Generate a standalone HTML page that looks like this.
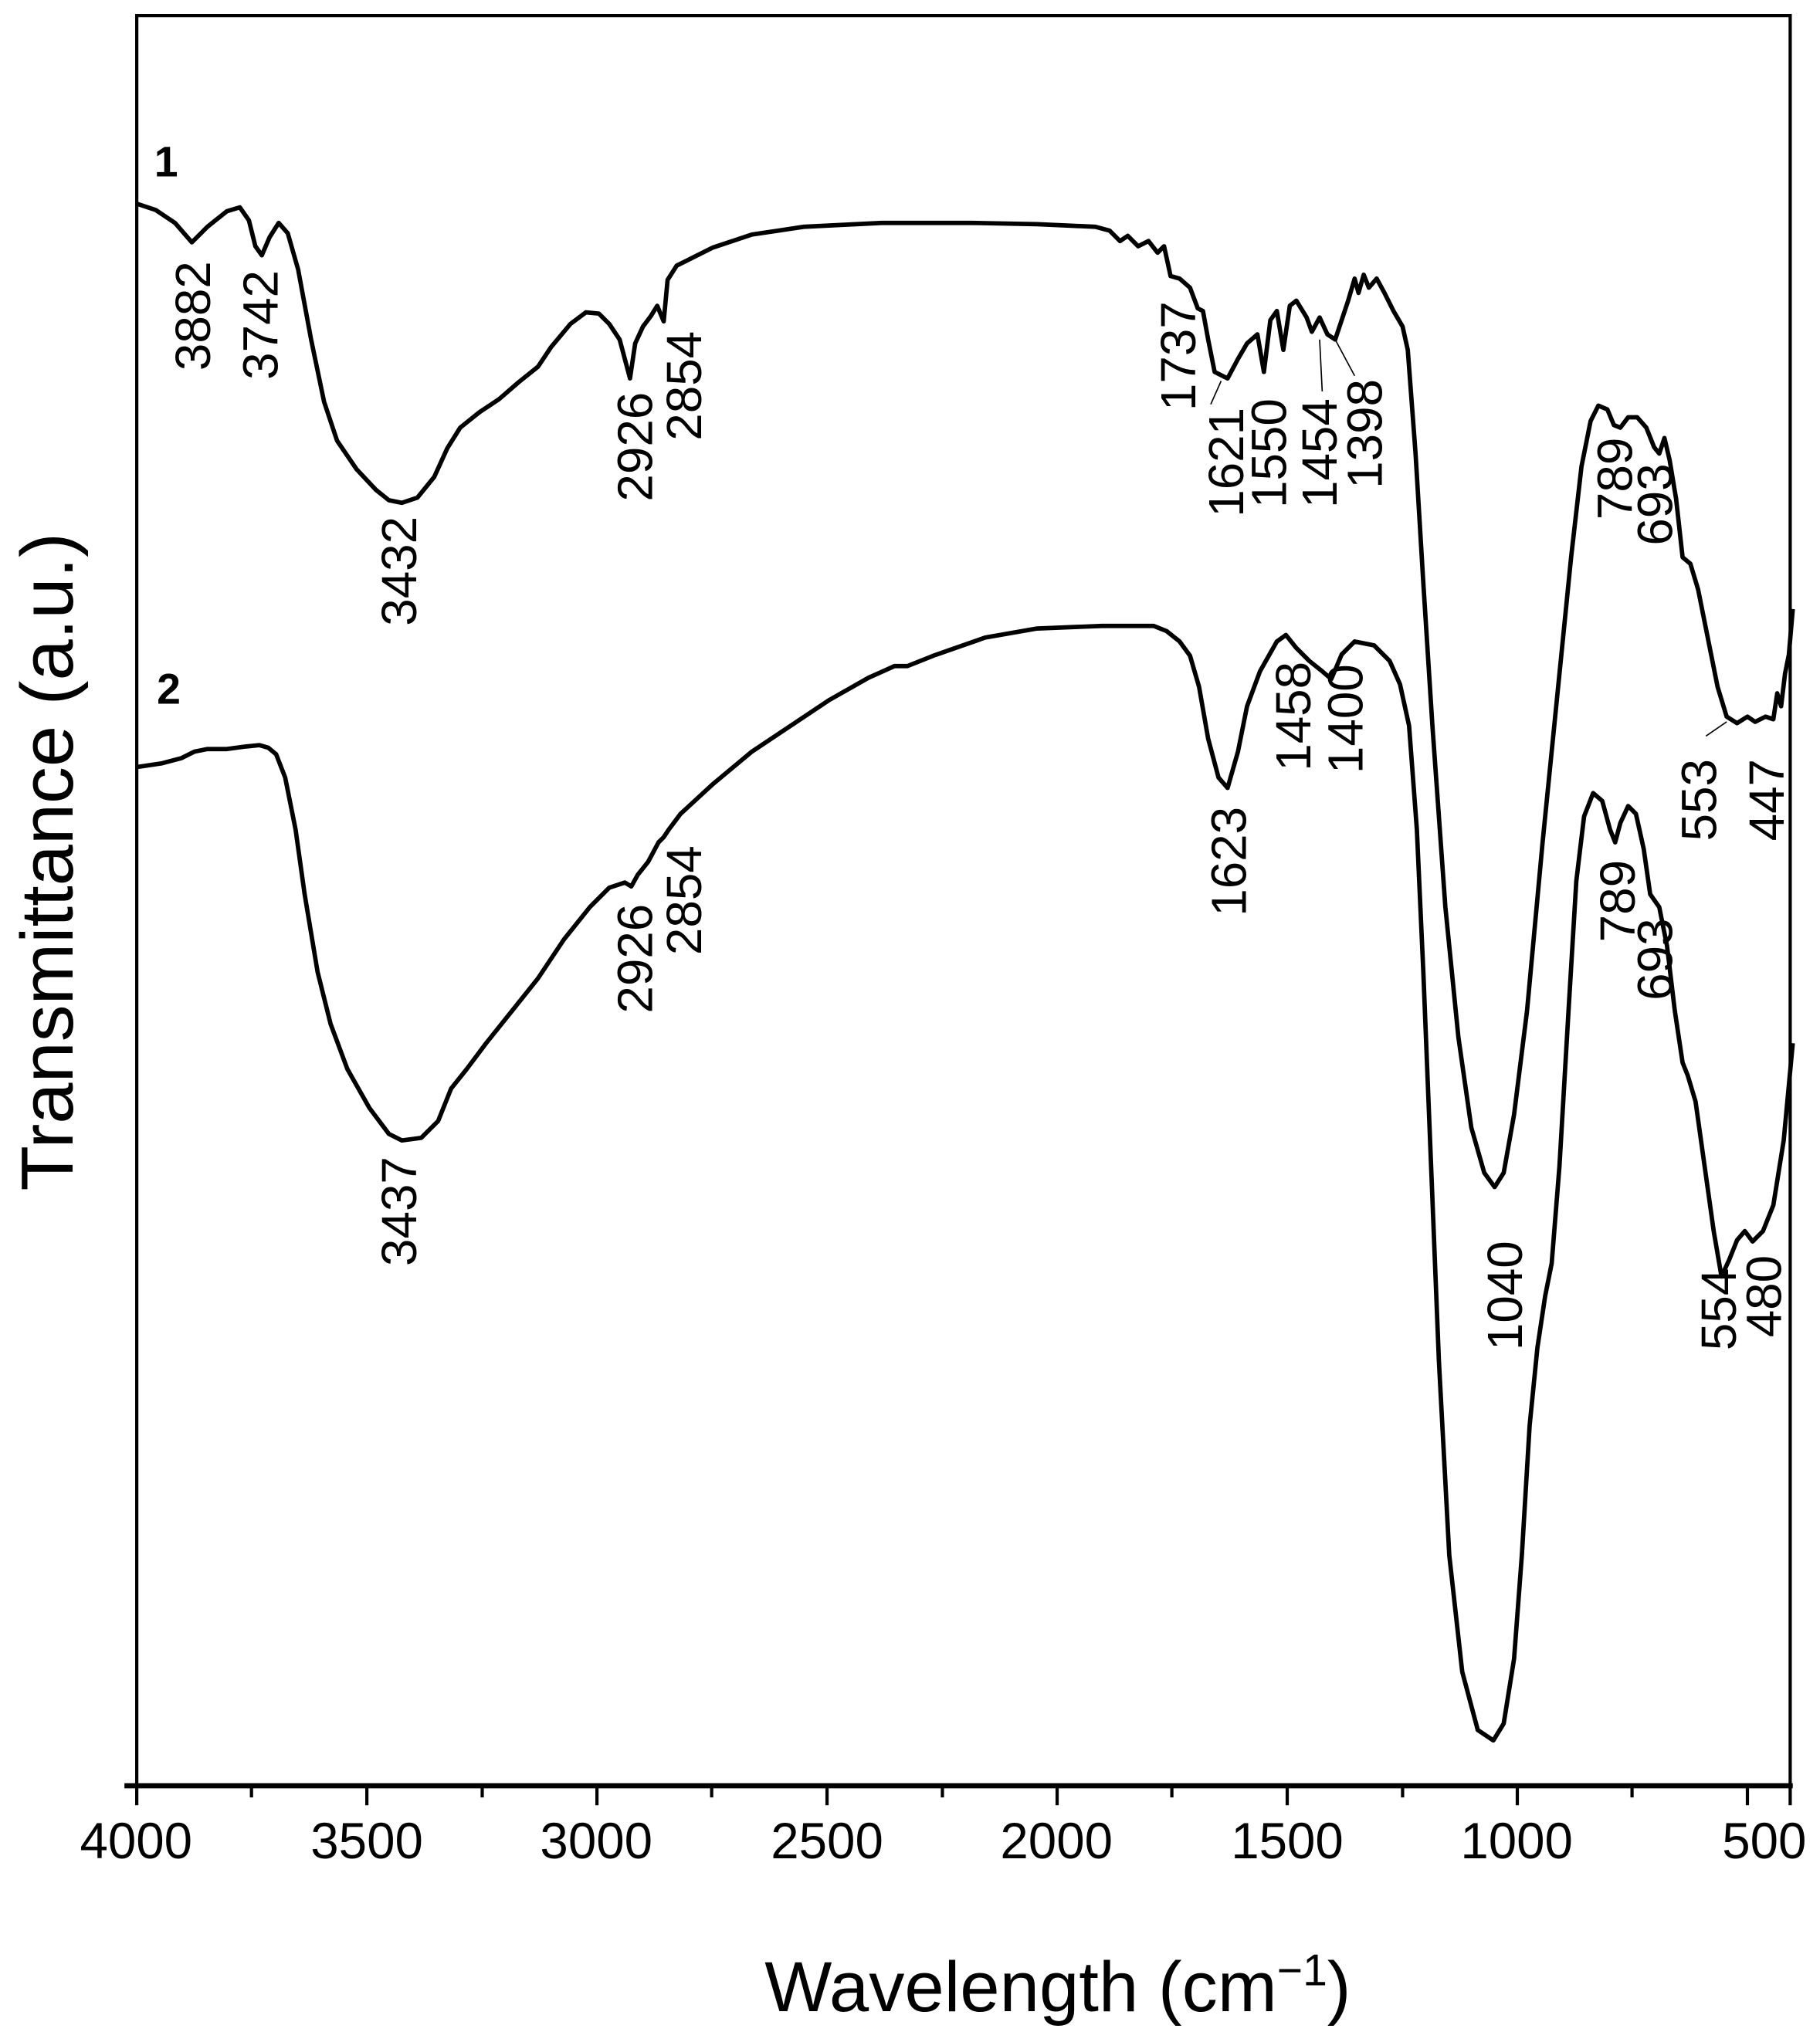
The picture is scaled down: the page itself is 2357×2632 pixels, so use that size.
<!DOCTYPE html>
<html><head><meta charset="utf-8"><style>
html,body{margin:0;padding:0;background:#fff;}
svg{display:block;}
text{font-family:"Liberation Sans",Arial,sans-serif;fill:#000;}
</style></head><body>
<svg width="2357" height="2632" viewBox="0 0 1404 1568" preserveAspectRatio="none" xmlns="http://www.w3.org/2000/svg">
<rect x="0" y="0" width="1404" height="1568" fill="#fff"/>
<path d="M105.5 1378 L105.5 12 L1381 12 L1381 1378" fill="none" stroke="#000" stroke-width="2.5"/>
<line x1="96" y1="1378" x2="1383" y2="1378" stroke="#000" stroke-width="4"/>
<g stroke="#000" stroke-width="2.5">
<line x1="105.5" y1="1378" x2="105.5" y2="1393"/><line x1="283" y1="1378" x2="283" y2="1393"/><line x1="460.5" y1="1378" x2="460.5" y2="1393"/><line x1="638" y1="1378" x2="638" y2="1393"/><line x1="815.5" y1="1378" x2="815.5" y2="1393"/><line x1="993" y1="1378" x2="993" y2="1393"/><line x1="1170.5" y1="1378" x2="1170.5" y2="1393"/><line x1="1348" y1="1378" x2="1348" y2="1393"/><line x1="1381" y1="1378" x2="1381" y2="1393"/>
<line x1="194" y1="1378" x2="194" y2="1387"/><line x1="372" y1="1378" x2="372" y2="1387"/><line x1="549" y1="1378" x2="549" y2="1387"/><line x1="727" y1="1378" x2="727" y2="1387"/><line x1="904" y1="1378" x2="904" y2="1387"/><line x1="1082" y1="1378" x2="1082" y2="1387"/><line x1="1259" y1="1378" x2="1259" y2="1387"/>
</g>
<g font-size="39" text-anchor="middle">
<text x="105" y="1434">4000</text><text x="283" y="1434">3500</text><text x="460" y="1434">3000</text><text x="638" y="1434">2500</text><text x="815" y="1434">2000</text><text x="993" y="1434">1500</text><text x="1170" y="1434">1000</text><text x="1361" y="1434">500</text>
</g>
<text x="816" y="1552" font-size="55" text-anchor="middle">Wavelength (cm<tspan font-size="34" dy="-20">−1</tspan><tspan dy="20">)</tspan></text>
<text transform="translate(56,665) rotate(-90)" font-size="57" text-anchor="middle">Transmittance (a.u.)</text>
<text x="119" y="136" font-size="33" font-weight="bold">1</text>
<text x="121" y="543" font-size="33" font-weight="bold">2</text>
<polyline fill="none" stroke="#000" stroke-width="3.4" stroke-linejoin="round" points="105,157 120,162 135,172 148,187 160,175 175,163 185,160 192,170 197,190 202,197 208,183 215,172 222,180 230,208 240,262 250,310 260,340 275,362 290,378 300,386 310,388 322,384 335,368 345,346 355,330 370,318 385,308 400,295 415,283 425,268 440,250 452,241 462,242 470,250 478,262 486,292 490,265 496,252 502,244 507,236 512,248 515,216 522,205 532,200 550,191 580,181 620,175 680,172 750,172 800,173 845,175 856,178 864,186 870,182 878,190 886,186 893,195 898,190 903,213 910,215 918,222 924,238 928,240 932,262 937,287 947,292 955,277 962,265 970,258 975,287 980,247 985,240 990,270 995,236 1000,232 1008,245 1012,256 1018,245 1024,258 1030,262 1040,232 1045,215 1048,226 1052,212 1056,222 1062,215 1068,226 1075,240 1082,252 1086,270 1092,350 1098,450 1105,560 1115,700 1125,800 1135,870 1145,905 1153,916 1160,905 1168,860 1178,780 1190,650 1202,530 1212,430 1220,360 1227,325 1233,313 1240,316 1245,328 1250,330 1256,322 1263,322 1270,330 1276,345 1280,350 1284,338 1288,355 1293,385 1298,430 1304,435 1310,455 1318,495 1325,530 1332,553 1340,558 1348,553 1354,557 1362,553 1368,555 1371,535 1374,545 1377,520 1380,505 1383,470"/>
<polyline fill="none" stroke="#000" stroke-width="3.4" stroke-linejoin="round" points="105,592 125,589 140,585 150,580 160,578 175,578 190,576 200,575 207,577 213,582 220,600 228,640 235,690 245,750 255,790 268,825 285,855 300,875 310,880 325,878 338,865 348,840 360,825 375,805 395,780 415,755 435,725 455,700 470,685 482,681 487,684 492,675 500,665 508,650 512,646 516,640 525,628 550,605 580,580 610,560 640,540 670,523 690,514 700,514 720,506 760,492 800,485 850,483 890,483 900,487 910,495 918,506 925,530 932,570 940,600 947,608 955,580 962,545 972,518 985,495 992,490 1000,500 1010,510 1020,518 1027,524 1035,505 1045,495 1060,498 1072,510 1080,528 1087,560 1093,640 1098,750 1104,900 1110,1050 1118,1200 1128,1290 1140,1335 1152,1343 1160,1330 1168,1280 1174,1200 1180,1100 1186,1040 1192,1000 1197,975 1203,900 1210,780 1216,680 1222,630 1229,612 1236,618 1242,640 1246,650 1250,635 1256,622 1262,628 1268,655 1273,690 1280,700 1286,730 1292,780 1298,820 1302,830 1308,850 1315,900 1322,950 1328,985 1334,972 1340,957 1346,950 1352,958 1360,950 1368,930 1376,880 1383,805"/>
<g stroke="#000" stroke-width="1">
<line x1="942" y1="294" x2="934" y2="312"/>
<line x1="1018" y1="262" x2="1020" y2="302"/>
<line x1="1030" y1="262" x2="1045" y2="290"/>
<line x1="1332" y1="557" x2="1316" y2="568"/>
</g>
<g font-size="38">
<text transform="translate(162,286) rotate(-90)">3882</text>
<text transform="translate(214,293) rotate(-90)">3742</text>
<text transform="translate(321,483) rotate(-90)">3432</text>
<text transform="translate(503,387) rotate(-90)">2926</text>
<text transform="translate(541,340) rotate(-90)">2854</text>
<text transform="translate(922,317) rotate(-90)">1737</text>
<text transform="translate(959,399) rotate(-90)">1621</text>
<text transform="translate(992,392) rotate(-90)">1550</text>
<text transform="translate(1031,392) rotate(-90)">1454</text>
<text transform="translate(1066,377) rotate(-90)">1398</text>
<text transform="translate(1259,401) rotate(-90)">789</text>
<text transform="translate(1290,421) rotate(-90)">693</text>
<text transform="translate(1324,649) rotate(-90)">553</text>
<text transform="translate(1376,649) rotate(-90)">447</text>
<text transform="translate(321,977) rotate(-90)">3437</text>
<text transform="translate(503,782) rotate(-90)">2926</text>
<text transform="translate(541,737) rotate(-90)">2854</text>
<text transform="translate(961,707) rotate(-90)">1623</text>
<text transform="translate(1011,595) rotate(-90)">1458</text>
<text transform="translate(1051,597) rotate(-90)">1400</text>
<text transform="translate(1174,1042) rotate(-90)">1040</text>
<text transform="translate(1261,727) rotate(-90)">789</text>
<text transform="translate(1290,772) rotate(-90)">693</text>
<text transform="translate(1339,1042) rotate(-90)">554</text>
<text transform="translate(1374,1032) rotate(-90)">480</text>
</g>
</svg>
</body></html>
